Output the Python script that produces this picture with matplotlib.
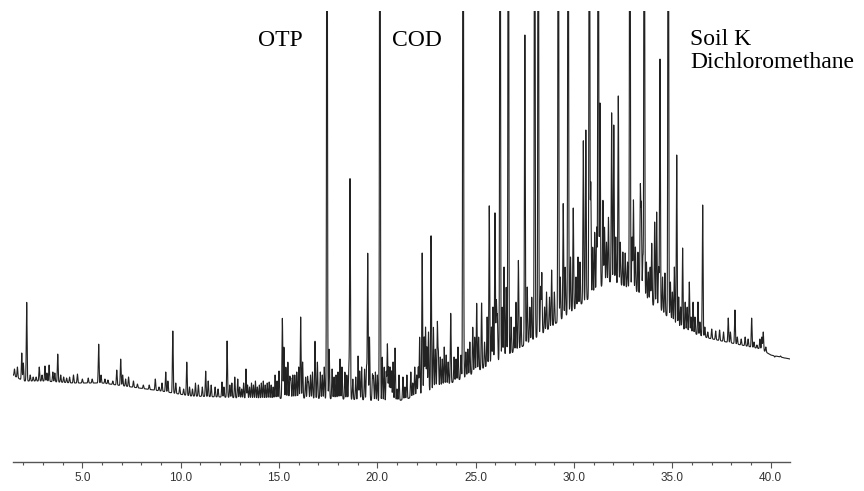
import numpy as np
import matplotlib
matplotlib.use("Agg")
import matplotlib.pyplot as plt

# retention time axis (min)
t_start = 1.46
t_end = 40.98

# baseline (hump of unresolved material), read from the lower envelope
base_rt = [1.46, 2.0, 3.0, 4.5, 6.0, 7.5, 9.0, 10.5, 12.0, 14.0, 16.0, 18.0,
           19.5, 20.5, 21.5, 22.5, 23.5, 24.5, 25.5, 26.5, 27.5, 28.5, 29.5,
           30.3, 31.0, 31.6, 32.0, 32.6, 33.2, 33.8, 34.5, 35.3, 36.0, 36.8,
           37.5, 38.5, 39.5, 40.0, 40.98]
base_level = [92, 86, 86, 84, 84, 80, 76, 71, 70, 68, 69, 68,
              67, 64, 68, 75, 82, 90, 100, 110, 122, 135, 150,
              162, 172, 185, 185, 180, 175, 165, 155, 140, 134, 129,
              126, 122, 118, 112, 108]

# resolved peaks: retention time and apex level (800 = off scale)
peak_rt = [
    1.55, 1.7, 1.92, 2.0, 2.17, 2.5, 2.81, 2.95, 3.1, 3.2, 3.31, 3.5, 3.6,
    3.75, 3.9, 4.05, 4.2, 4.55, 4.75, 5.0, 5.3, 5.83, 5.95,
    6.3, 6.55, 6.75, 6.95, 7.05, 7.35, 7.6, 7.8, 8.1, 8.71, 9.05, 9.24, 9.35,
    9.6, 9.75, 9.95, 10.15, 10.31, 10.45, 10.75, 10.9, 11.27, 11.4, 11.55, 11.75,
    12.1, 12.36, 12.5, 12.75, 12.9, 13.1, 13.32, 13.5, 13.7, 13.9, 14.1, 14.3,
    14.5, 14.7, 14.8, 15.0, 15.17, 15.25, 15.35, 15.45, 15.6, 15.8, 16.0, 16.1,
    16.2, 16.35, 16.5, 16.7, 16.83, 16.95, 17.1, 17.3, 17.44, 17.55, 17.7, 17.9,
    18.1, 18.2, 18.35, 18.61, 18.75, 18.9, 19.02, 19.2, 19.35, 19.51, 19.6,
    19.75, 19.9, 20.13, 20.25, 20.35, 20.51, 20.65, 20.8, 20.9, 21.1, 21.3,
    21.5, 21.7, 21.9, 22.0, 22.15, 22.28, 22.45, 22.6, 22.73, 22.85, 23.05,
    23.2, 23.4,
    23.73, 23.9, 24.1, 24.36, 24.5, 24.7, 24.85, 25.05, 25.15, 25.3, 25.45,
    25.69, 25.8, 25.98, 26.1, 26.24, 26.35, 26.44, 26.55, 26.66, 26.8, 26.95,
    27.05, 27.17, 27.3, 27.5, 27.62, 27.75, 27.85, 28.0, 28.18, 28.3, 28.36,
    28.5, 28.6, 28.75, 28.86, 29.0, 29.2, 29.3, 29.45, 29.55, 29.7, 29.82,
    29.96, 30.1, 30.2, 30.3, 30.47, 30.6, 30.78, 30.85, 30.95, 31.05, 31.15,
    31.23, 31.32, 31.47, 31.55, 31.65, 31.75, 31.91, 32.02, 32.12, 32.25,
    32.35, 32.48, 32.6, 32.72, 32.84, 32.95, 33.02, 33.12, 33.25, 33.37,
    33.42, 33.5, 33.57, 33.68, 33.78, 33.87, 33.95, 34.1, 34.2, 34.3, 34.37,
    34.5, 34.62, 34.79, 34.9, 35.0, 35.1, 35.22, 35.32, 35.42, 35.52, 35.65,
    35.75, 35.86, 35.95, 36.05, 36.15, 36.3, 36.4, 36.54, 36.65, 36.8, 37.0,
    37.2, 37.4, 37.6, 37.84, 37.95, 38.18, 38.3, 38.5, 38.7, 38.85, 39.03,
    39.15, 39.3, 39.45, 39.55, 39.62, 39.75, 40.2, 40.5, 40.7]
peak_top = [
    98, 100, 114, 104, 165, 90, 100, 92, 101, 94, 102, 95, 94,
    113, 92, 90, 89, 92, 93, 88, 89, 123, 92,
    87, 86, 97, 108, 92, 90, 86, 83, 82, 88, 84, 95, 86,
    136, 84, 80, 78, 105, 80, 84, 82, 96, 86, 82, 80,
    85, 126, 82, 90, 88, 78, 98, 80, 82, 80, 84, 82,
    85, 80, 92, 96, 149, 120, 100, 105, 88, 92, 100, 150,
    105, 90, 84, 95, 126, 105, 95, 100, 800, 118, 98, 92,
    108, 100, 95, 289, 88, 90, 111, 100, 98, 214, 130,
    92, 95, 800, 110, 100, 123, 100, 105, 119, 92, 90,
    92, 95, 100, 92, 130, 214, 140, 135, 232, 140, 144,
    110, 120,
    154, 110, 120, 800, 115, 125, 140, 164, 130, 164, 125,
    262, 140, 254, 150, 800, 160, 200, 180, 800, 150, 140,
    165, 207, 150, 432, 180, 160, 170, 800, 800, 180, 194,
    160, 175, 170, 197, 175, 800, 190, 264, 200, 800, 210,
    259, 190, 210, 205, 327, 337, 800, 284, 220, 235, 240,
    800, 364, 267, 240, 225, 250, 355, 342, 230, 372,
    225, 215, 214, 205, 800, 230, 267, 220, 215, 279,
    260, 210, 800, 205, 195, 200, 224, 245, 255, 200, 409,
    190, 194, 800, 185, 175, 200, 312, 170, 160, 219, 165,
    160, 185, 150, 165, 150, 165, 145, 262, 140, 135, 138,
    136, 137, 135, 149, 135, 157, 130, 128, 130, 128, 149,
    125, 122, 128, 130, 135, 120, 110, 111, 109]

# small baseline peaks (noise-level)
minor_rt = [11.9, 12.2, 12.6, 13.0, 13.2, 13.4, 13.6, 13.8, 14.0, 14.2, 14.4,
            14.6, 14.9, 15.55, 15.7, 15.9, 16.45, 16.6, 17.2, 17.8, 18.0,
            18.45, 18.55, 19.1, 19.45, 19.8, 20.0, 20.45, 20.58, 20.72, 21.0,
            21.4, 21.8, 22.08, 22.38, 22.52, 22.95, 23.1, 23.3,
            23.5, 23.6, 24.0, 24.25, 24.6, 24.95, 25.58, 25.88, 26.05,
            2.35, 2.65, 4.35, 5.5, 6.15, 7.2, 8.4, 8.9, 10.6, 11.1]
minor_top = [78, 80, 84, 80, 84, 82, 84, 86, 82, 86, 84,
             82, 86, 90, 92, 95, 90, 92, 92, 90, 95,
             92, 100, 96, 100, 90, 92, 95, 100, 96, 78,
             80, 84, 100, 130, 120, 118, 115, 108,
             112, 105, 108, 112, 118, 130, 150, 160, 165,
             92, 90, 90, 88, 88, 88, 82, 80, 78, 80]

rt = np.arange(t_start, t_end, 0.004)
signal = np.interp(rt, base_rt, base_level)
for p_rt, p_top in zip(peak_rt + minor_rt, peak_top + minor_top):
    amp = p_top - np.interp(p_rt, base_rt, base_level)
    signal = signal + amp * np.exp(-0.5 * ((rt - p_rt) / 0.02) ** 2)

fig = plt.figure(figsize=(8.64, 4.91), dpi=100)
ax = fig.add_axes([12.7 / 864, (491 - 462) / 491, (790 - 12.7) / 864, (462 - 11) / 491])
ax.plot(rt, signal, color="#222222", lw=0.8)
ax.set_xlim(t_start, t_end)
ax.set_ylim(5, 456)

for s in ["left", "right", "top"]:
    ax.spines[s].set_visible(False)
ax.spines["bottom"].set_color("#555555")
ax.spines["bottom"].set_linewidth(1.0)
ax.set_yticks([])
ax.set_xticks(np.arange(5, 41, 5))
ax.set_xticklabels(["%.1f" % v for v in np.arange(5, 41, 5)],
                   fontfamily="Liberation Sans", fontsize=8.5, color="#333333")
ax.set_xticks(np.arange(2, 41, 1), minor=True)
ax.tick_params(axis="x", which="major", direction="out", length=4.5, width=0.8,
               color="#555555", pad=3)
ax.tick_params(axis="x", which="minor", direction="out", length=2.5, width=0.8,
               color="#555555")

serif = dict(fontfamily="Liberation Serif", fontsize=17, color="black")
fig.text(280 / 864, 1 - 46 / 491, "OTP", ha="center", va="baseline", **serif)
fig.text(417 / 864, 1 - 46 / 491, "COD", ha="center", va="baseline", **serif)
fig.text(690 / 864, 1 - 45 / 491, "Soil K", ha="left", va="baseline", **serif)
fig.text(690 / 864, 1 - 68 / 491, "Dichloromethane", ha="left", va="baseline", **serif)

fig.savefig("out.png", dpi=100)
